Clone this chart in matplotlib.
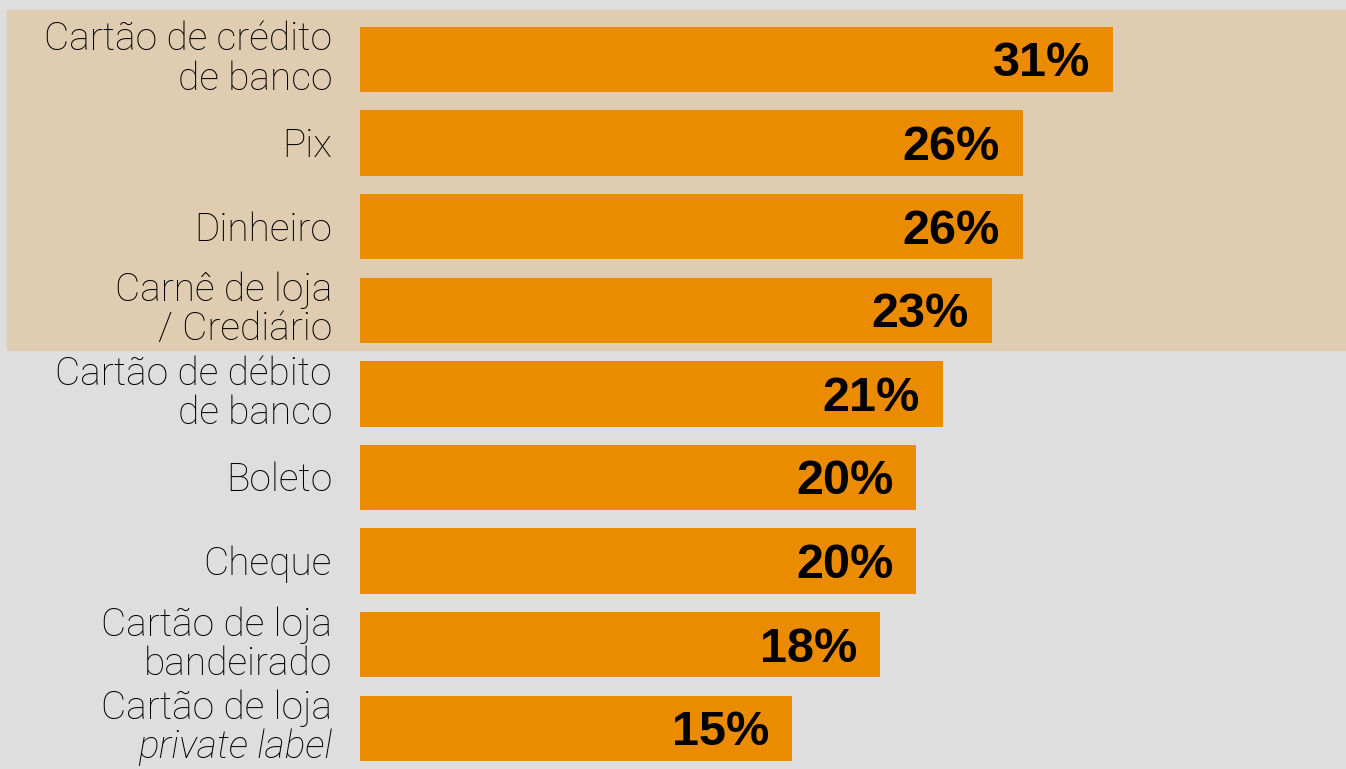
import matplotlib.pyplot as plt
from matplotlib.patches import Rectangle

# categorias (cada linha do rótulo separada)
categorias = [
    ["Cartão de crédito", "de banco"],
    ["Pix"],
    ["Dinheiro"],
    ["Carnê de loja", "/ Crediário"],
    ["Cartão de débito", "de banco"],
    ["Boleto"],
    ["Cheque"],
    ["Cartão de loja", "bandeirado"],
    ["Cartão de loja", "private label"],
]
valores = [31, 26, 26, 23, 21, 20, 20, 18, 15]
# comprimento das barras (não é exatamente proporcional ao rótulo)
comprimentos = [31.0, 27.3, 27.3, 26.0, 24.0, 22.9, 22.9, 21.4, 17.8]
italico = ["private label"]
destaque = [0, 1, 2, 3]  # categorias com fundo bege

fundo = "#dedede"
bege = "#e0cdb1"
laranja = "#eb8c00"

fig = plt.figure(figsize=(13.46, 7.69), dpi=100, facecolor=fundo)
ax = fig.add_axes([0, 0, 1, 1])
ax.set_facecolor(fundo)
ax.set_axis_off()

px_x = 24.29  # pixels por ponto percentual
px_y = 83.6   # pixels por categoria
ax.set_xlim(-360 / px_x, (1346 - 360) / px_x)
ax.set_ylim((769 - 59.5) / px_y, -59.5 / px_y)

# faixa bege atrás dos primeiros itens
y0 = destaque[0] - 0.59
y1 = destaque[-1] + 0.47
ax.add_patch(Rectangle((-353 / px_x, y0), 60, y1 - y0, color=bege, zorder=0))

pos = list(range(len(categorias)))
ax.barh(pos, comprimentos, height=0.78, color=laranja, zorder=2)

for i, (linhas, v, c) in enumerate(zip(categorias, valores, comprimentos)):
    if len(linhas) == 1:
        offs = [-14]
    else:
        offs = [9, -30]
    for txt, dy in zip(linhas, offs):
        ax.annotate(txt, xy=(0, i), xytext=(-28, dy), textcoords="offset pixels",
                    ha="right", va="baseline", fontsize=28, family="Roboto",
                    fontweight="light", color="black",
                    style="italic" if txt in italico else "normal")
    ax.annotate(f"{v}%", xy=(c, i), xytext=(-23, -17), textcoords="offset pixels",
                ha="right", va="baseline", fontsize=35, family="Liberation Sans",
                fontweight="bold", color="black", zorder=3)

fig.savefig("out.png", dpi=100, facecolor=fundo)
